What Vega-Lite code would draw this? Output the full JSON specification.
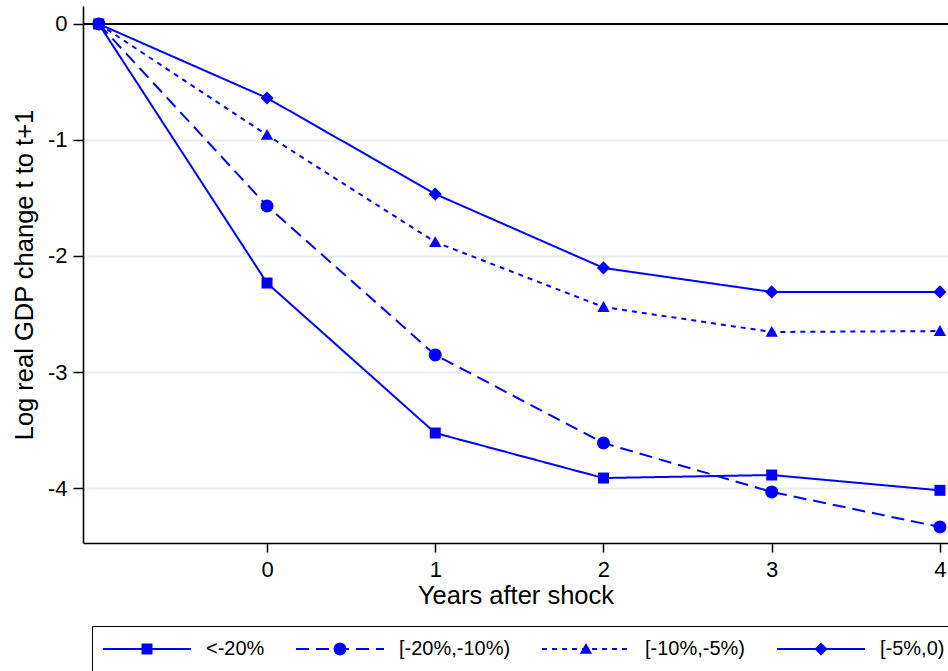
{
  "$schema": "https://vega.github.io/schema/vega-lite/v6.json",
  "width": 865,
  "height": 537,
  "autosize": {"type": "none"},
  "padding": {"left": 83, "top": 6, "right": 0, "bottom": 128},
  "background": "white",
  "config": {
    "view": {"stroke": null},
    "font": "Liberation Sans",
    "axis": {"labelFont": "Liberation Sans", "titleFont": "Liberation Sans", "labelColor": "black", "titleColor": "black", "titleFontWeight": "normal", "domainColor": "black", "tickColor": "black"}
  },
  "data": {
    "values": [
      {"series": "<-20%", "year": -1, "value": 0},
      {"series": "<-20%", "year": 0, "value": -2.233},
      {"series": "<-20%", "year": 1, "value": -3.526},
      {"series": "<-20%", "year": 2, "value": -3.914},
      {"series": "<-20%", "year": 3, "value": -3.888},
      {"series": "<-20%", "year": 4, "value": -4.02},
      {"series": "[-10%,-5%)", "year": -1, "value": 0},
      {"series": "[-10%,-5%)", "year": 0, "value": -0.957},
      {"series": "[-10%,-5%)", "year": 1, "value": -1.88},
      {"series": "[-10%,-5%)", "year": 2, "value": -2.44},
      {"series": "[-10%,-5%)", "year": 3, "value": -2.655},
      {"series": "[-10%,-5%)", "year": 4, "value": -2.647},
      {"series": "[-5%,0)", "year": -1, "value": 0},
      {"series": "[-5%,0)", "year": 0, "value": -0.638},
      {"series": "[-5%,0)", "year": 1, "value": -1.466},
      {"series": "[-5%,0)", "year": 2, "value": -2.103},
      {"series": "[-5%,0)", "year": 3, "value": -2.31},
      {"series": "[-5%,0)", "year": 4, "value": -2.31},
      {"series": "[-20%,-10%)", "year": -1, "value": 0},
      {"series": "[-20%,-10%)", "year": 0, "value": -1.569},
      {"series": "[-20%,-10%)", "year": 1, "value": -2.853},
      {"series": "[-20%,-10%)", "year": 2, "value": -3.612},
      {"series": "[-20%,-10%)", "year": 3, "value": -4.034},
      {"series": "[-20%,-10%)", "year": 4, "value": -4.336}
    ]
  },
  "encoding": {
    "x": {
      "field": "year", "type": "quantitative",
      "scale": {"domain": [-1.094, 4.048], "nice": false, "zero": false},
      "axis": {"values": [0, 1, 2, 3, 4], "title": "Years after shock", "grid": false, "labelFontSize": 22, "titleFontSize": 25.5, "tickSize": 9, "tickWidth": 1.5, "domainWidth": 1.6, "labelPadding": 7, "titlePadding": 3, "labelExpr": "'' + datum.value"}
    },
    "y": {
      "field": "value", "type": "quantitative",
      "scale": {"domain": [-4.474, 0.155], "nice": false, "zero": false},
      "axis": {"values": [-4, -3, -2, -1, 0], "title": "Log real GDP change t to t+1", "grid": true, "gridColor": "#e6eef1", "gridWidth": 1.8, "labelFontSize": 22, "titleFontSize": 25.5, "tickSize": 10, "tickWidth": 1.5, "domainWidth": 1.6, "labelPadding": 6, "titlePadding": 10, "labelExpr": "'' + datum.value"}
    }
  },
  "layer": [
    {
      "data": {"values": [{"z": 0}]},
      "mark": {"type": "rule", "color": "black", "strokeWidth": 1.8},
      "encoding": {"y": {"field": "z", "type": "quantitative"}, "x": null}
    },
    {
      "mark": {"type": "line", "color": "#0000ff", "strokeWidth": 2},
      "encoding": {
        "detail": {"field": "series"},
        "strokeDash": {
          "field": "series", "type": "nominal",
          "sort": ["<-20%", "[-20%,-10%)", "[-10%,-5%)", "[-5%,0)"],
          "scale": {"range": [[1, 0], [13, 7], [5, 5], [1, 0]]},
          "legend": {
            "title": null,
            "orient": "none",
            "legendX": 9,
            "legendY": 620,
            "direction": "horizontal",
            "columns": 4,
            "columnPadding": 30,
            "labelOffset": 14,
            "symbolType": "stroke",
            "symbolSize": 7744,
            "symbolStrokeWidth": 2,
            "symbolStrokeColor": "#0000ff",
            "clipHeight": 26,
            "padding": 10,
            "strokeColor": "black",
            "labelFontSize": 20,
            "labelFont": "Liberation Sans",
            "labelColor": "black",
            "symbolOffset": 0
          }
        }
      }
    },
    {
      "mark": {"type": "point", "filled": true, "color": "#0000ff", "opacity": 1, "size": 7744, "strokeWidth": 0},
      "encoding": {
        "shape": {
          "field": "series", "type": "nominal",
          "scale": {"domain": ["<-20%", "[-20%,-10%)", "[-10%,-5%)", "[-5%,0)"], "range": [
            "M-0.125,-0.125H0.125V0.125H-0.125Z",
            "M0.148,0L0.137,0.057L0.105,0.105L0.057,0.137L0,0.148L-0.057,0.137L-0.105,0.105L-0.137,0.057L-0.148,0L-0.137,-0.057L-0.105,-0.105L-0.057,-0.137L0,-0.148L0.057,-0.137L0.105,-0.105L0.137,-0.057Z",
            "M0,-0.135L0.14,0.11L-0.14,0.11Z",
            "M-0.15,0L0,-0.15L0.15,0L0,0.15Z"
          ]},
          "legend": {
            "title": null,
            "orient": "none",
            "legendX": 9,
            "legendY": 620,
            "direction": "horizontal",
            "columns": 4,
            "columnPadding": 30,
            "labelOffset": 14,
            "symbolSize": 7744,
            "symbolStrokeWidth": 2,
            "clipHeight": 26,
            "padding": 10,
            "labelFontSize": 20,
            "labelFont": "Liberation Sans",
            "labelOpacity": 0,
            "symbolOffset": 0
          }
        }
      }
    }
  ]
}
